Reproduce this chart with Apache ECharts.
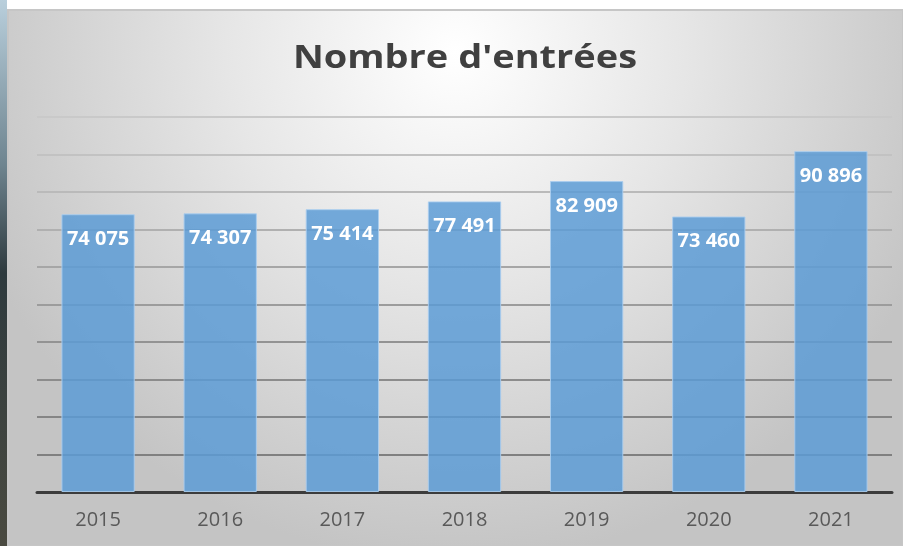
<!DOCTYPE html>
<html>
<head>
<meta charset="utf-8">
<script src="https://cdn.jsdelivr.net/npm/echarts@6/dist/echarts.min.js"></script>
<style>
  html, body { margin: 0; padding: 0; background: #fff; }
  #chart { width: 903px; height: 546px; }
</style>
</head>
<body>
<div id="chart"></div>
<script>
var years = ["2015", "2016", "2017", "2018", "2019", "2020", "2021"];
var entrees = [74075, 74307, 75414, 77491, 82909, 73460, 90896];
var titre = "Nombre d'entrées";

var chart = echarts.init(document.getElementById("chart"));

function fmt(v) {
  // séparateur de milliers avec espace
  return String(v).replace(/\B(?=(\d{3})+(?!\d))/g, " ");
}

chart.setOption({
  animation: false,
  backgroundColor: "#ffffff",
  graphic: [
    {
      type: "rect",
      z: -100,
      shape: { x: 8, y: 10, width: 895, height: 536 },
      style: {
        fill: new echarts.graphic.RadialGradient(0.5, 0.08, 0.95, [
          { offset: 0, color: "#ffffff" },
          { offset: 0.45, color: "#e6e6e6" },
          { offset: 1, color: "#c4c4c4" }
        ]),
        stroke: "#c6c6c6",
        lineWidth: 2
      }
    },
    {
      type: "rect",
      z: -100,
      shape: { x: 0, y: 0, width: 7, height: 546 },
      style: {
        fill: new echarts.graphic.LinearGradient(0, 0, 0, 1, [
          { offset: 0, color: "#b9cfdc" },
          { offset: 0.3, color: "#6f8590" },
          { offset: 0.5, color: "#2e3a3e" },
          { offset: 1, color: "#4a4a40" }
        ])
      }
    },
    {
      type: "text",
      x: 465,
      y: 59,
      scaleX: 1.15,
      style: {
        text: titre,
        textAlign: "center",
        textVerticalAlign: "middle",
        fontFamily: "Open Sans",
        fontWeight: "bold",
        fontSize: 33,
        fill: "#404040"
      }
    }
  ],
  grid: {
    left: 37,
    right: 11,
    top: 117,
    bottom: 54
  },
  xAxis: {
    type: "category",
    data: years,
    axisTick: { show: false },
    axisLine: { lineStyle: { color: "#3c3c3c", width: 3 } },
    axisLabel: {
      margin: 18,
      fontFamily: "Open Sans",
      fontSize: 20,
      color: "#595959"
    }
  },
  yAxis: {
    type: "value",
    min: 0,
    max: 100000,
    interval: 10000,
    axisLabel: { show: false },
    axisLine: { show: false },
    axisTick: { show: false },
    splitLine: {
      lineStyle: {
        color: ["#808080", "#808080", "#858585", "#8c8c8c", "#939393", "#9c9c9c",
                "#a6a6a6", "#b0b0b0", "#bababa", "#c2c2c2", "#c9c9c9"],
        width: 2
      }
    }
  },
  series: [
    {
      type: "bar",
      data: entrees,
      barWidth: "60%",
      itemStyle: {
        color: "rgba(91,155,213,0.84)",
        borderColor: "rgba(170,205,238,0.9)",
        borderWidth: 1
      },
      label: {
        show: true,
        position: "insideTop",
        distance: 15,
        formatter: function (p) { return fmt(p.value); },
        fontFamily: "Open Sans",
        fontWeight: "bold",
        fontSize: 20,
        color: "#ffffff"
      }
    }
  ]
});
</script>
</body>
</html>
